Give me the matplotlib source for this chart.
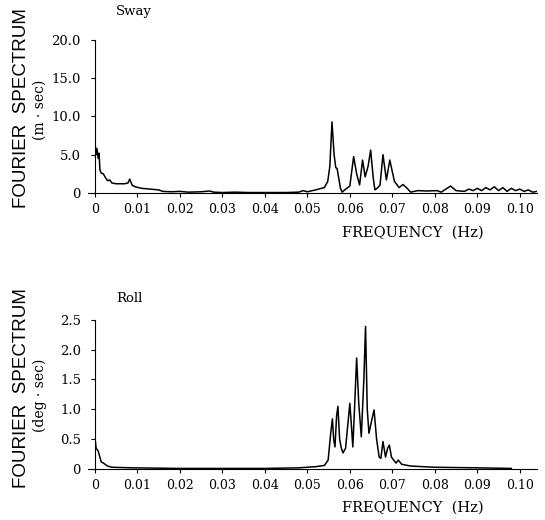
import matplotlib.pyplot as plt

# Sway spectrum (m.sec)
sway_freq = [0, 0.0001, 0.0003, 0.0005, 0.0008, 0.001, 0.0012, 0.0015, 0.002, 0.0025,
             0.003, 0.0035, 0.004, 0.005, 0.006, 0.007, 0.0078, 0.0082, 0.0088, 0.0095,
             0.011, 0.013, 0.015, 0.016, 0.018, 0.02, 0.022, 0.025, 0.027, 0.028,
             0.03, 0.033, 0.036, 0.04, 0.045, 0.048, 0.049, 0.050, 0.052, 0.054,
             0.0548, 0.0553, 0.0558, 0.0563, 0.0567, 0.057, 0.0578, 0.0582, 0.0588, 0.060,
             0.0609, 0.0616, 0.0623, 0.063, 0.0636, 0.0643, 0.0649, 0.0655, 0.0659, 0.0664,
             0.0671, 0.0678, 0.0686, 0.0694, 0.0705, 0.0716, 0.0725, 0.0735, 0.0743, 0.076,
             0.078, 0.0805, 0.0815, 0.0837, 0.085, 0.087, 0.088, 0.089, 0.090, 0.091,
             0.092, 0.093, 0.094, 0.095, 0.096, 0.097, 0.098, 0.099, 0.100, 0.101,
             0.102, 0.103, 0.104]
sway_amp = [0, 6.3, 5.0, 5.8, 4.5, 5.2, 3.0, 2.6, 2.5, 2.0,
            1.6, 1.7, 1.3, 1.2, 1.2, 1.2, 1.3, 1.8, 1.0, 0.8,
            0.6, 0.5, 0.4, 0.2, 0.15, 0.2, 0.1, 0.15, 0.25, 0.1,
            0.05, 0.1, 0.05, 0.05, 0.05, 0.1, 0.3, 0.15, 0.4, 0.7,
            1.5, 3.5, 9.3, 5.0, 3.3, 3.2, 0.6, 0.1, 0.4, 0.9,
            4.75, 2.5, 1.05, 4.3, 2.1, 3.5, 5.6, 2.0, 0.4, 0.6,
            1.0, 5.0, 1.7, 4.3, 1.5, 0.7, 1.1, 0.6, 0.1, 0.3,
            0.25, 0.3, 0.1, 0.9, 0.3, 0.2, 0.5, 0.3, 0.6, 0.3,
            0.7, 0.4, 0.8, 0.3, 0.7, 0.2, 0.6, 0.3, 0.5, 0.2,
            0.4, 0.1, 0.2]

# Roll spectrum (deg.sec)
roll_freq = [0, 0.0003, 0.0008, 0.0015, 0.002, 0.003, 0.004, 0.009, 0.02, 0.04,
             0.048, 0.052, 0.054, 0.0549, 0.0555, 0.0559, 0.0562, 0.0565, 0.0569, 0.0572,
             0.0576, 0.058, 0.0584, 0.059, 0.0596, 0.060, 0.0604, 0.0607, 0.0611, 0.0616,
             0.0621, 0.0627, 0.0633, 0.0637, 0.0641, 0.0645, 0.0651, 0.0657, 0.0663, 0.0669,
             0.0673, 0.0678, 0.0684, 0.0689, 0.0693, 0.0698, 0.0703, 0.0709, 0.0714, 0.0722,
             0.0743, 0.08, 0.09, 0.098]
roll_amp = [0.55, 0.35, 0.3, 0.12, 0.1, 0.05, 0.03, 0.02, 0.01, 0.01,
            0.02, 0.04, 0.06, 0.15, 0.6, 0.84, 0.5, 0.37, 0.9, 1.05,
            0.5, 0.35, 0.27, 0.35, 0.8, 1.1, 0.7, 0.37, 1.0, 1.86,
            1.1, 0.54, 1.5, 2.39, 1.0, 0.6, 0.8, 0.99, 0.5, 0.2,
            0.18, 0.46, 0.2, 0.35, 0.4, 0.2, 0.15, 0.1, 0.15, 0.08,
            0.05, 0.03, 0.02, 0.01]

x_ticks = [0, 0.01, 0.02, 0.03, 0.04, 0.05, 0.06, 0.07, 0.08, 0.09, 0.10]
x_labels = ['0', '0.01', '0.02', '0.03', '0.04', '0.05', '0.06', '0.07', '0.08', '0.09', '0.10']
sway_yticks = [0, 5, 10, 15, 20]
sway_ylabels = ['0', '5.0', '10.0', '15.0', '20.0']
roll_yticks = [0, 0.5, 1.0, 1.5, 2.0, 2.5]
roll_ylabels = ['0', '0.5', '1.0', '1.5', '2.0', '2.5']

serif = 'DejaVu Serif'
sans = 'Liberation Sans'
W, H = 545, 520

fig = plt.figure(figsize=(5.45, 5.2), dpi=100)


def px(x, y):
    # pixel position (from top-left) to figure fraction
    return x / W, 1 - y / H


def spectrum_panel(rect, freq, amp, yticks, ylabels, title, title_xy, unit,
                   ylab_y, unit_y, xlab_y):
    ax = fig.add_axes(rect)
    ax.plot(freq, amp, color='black', linewidth=1.1)
    ax.set_xlim(0, 0.104)
    ax.set_ylim(0, yticks[-1])
    ax.spines['top'].set_visible(False)
    ax.spines['right'].set_visible(False)
    ax.spines['bottom'].set_bounds(-0.0015, 0.104)
    ax.set_xticks(x_ticks)
    ax.set_xticklabels(x_labels, fontfamily=serif, fontsize=9)
    ax.set_yticks(yticks)
    ax.set_yticklabels(ylabels, fontfamily=serif, fontsize=9.5)
    ax.tick_params(direction='out', length=3, width=0.8)
    ax.tick_params(axis='x', pad=4)
    ax.tick_params(axis='y', pad=7)

    fig.text(*px(413, xlab_y), 'FREQUENCY  (Hz)', fontfamily=serif, fontsize=10.5,
             ha='center', va='center')
    fig.text(*px(*title_xy), title, fontfamily=serif, fontsize=9.5,
             ha='center', va='center')
    fig.text(*px(22, ylab_y), 'FOURIER  SPECTRUM', fontfamily=sans,
             fontsize=13.5, rotation=90, ha='center', va='center')
    fig.text(*px(40, unit_y), unit, fontfamily=serif, fontsize=10,
             rotation=90, ha='center', va='center')
    return ax


spectrum_panel([0.174, 0.629, 0.811, 0.294], sway_freq, sway_amp,
               sway_yticks, sway_ylabels, 'Sway', (134, 12), '(m \u00b7 sec)',
               ylab_y=108, unit_y=110, xlab_y=233)
spectrum_panel([0.174, 0.098, 0.811, 0.287], roll_freq, roll_amp,
               roll_yticks, roll_ylabels, 'Roll', (129, 298), '(deg \u00b7 sec)',
               ylab_y=388, unit_y=395, xlab_y=508)

fig.savefig('out.png', dpi=100)
